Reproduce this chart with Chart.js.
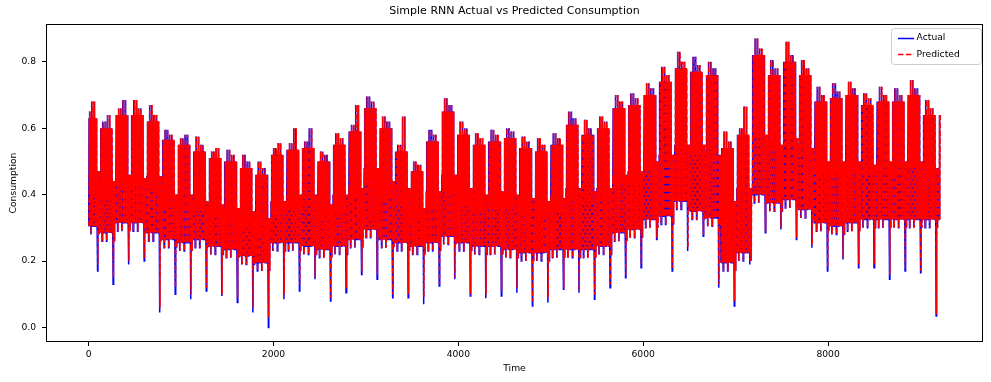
<!DOCTYPE html>
<html>
<head>
<meta charset="utf-8">
<title>Simple RNN Actual vs Predicted Consumption</title>
<script src="https://cdn.jsdelivr.net/npm/chart.js@4.4.0/dist/chart.umd.min.js"></script>
<style>
  html, body { margin: 0; padding: 0; background: #fff; }
  #chart { display: block; }
</style>
</head>
<body>
<canvas id="chart" width="991" height="382"></canvas>
<script>
// Values, one entry per week (week 0 starts mid-week).
// Hourly series over 384 days; a weekday is drawn as its troughs and three
// daytime peaks, the weekend day as its dip.
const DAYS = 384;

// highest weekday peak, first half of the week
const weekPeakEarly = [
    0.65, 0.62, 0.66, 0.685, 0.67, 0.595, 0.57, 0.575, 0.53, 0.535,
    0.52, 0.50, 0.54, 0.555, 0.56, 0.53, 0.585, 0.61, 0.695, 0.635,
    0.55, 0.50, 0.595, 0.69, 0.62, 0.585, 0.595, 0.60, 0.575, 0.57,
    0.585, 0.65, 0.625, 0.635, 0.70, 0.705, 0.735, 0.785, 0.83, 0.815,
    0.80, 0.59, 0.60, 0.87, 0.805, 0.86, 0.805, 0.725, 0.735, 0.74,
    0.705, 0.725, 0.72, 0.745, 0.685
];
// highest weekday peak, second half of the week
const weekPeakLate = [
    0.68, 0.64, 0.685, 0.66, 0.64, 0.58, 0.58, 0.55, 0.54, 0.52,
    0.50, 0.48, 0.555, 0.60, 0.60, 0.52, 0.57, 0.67, 0.68, 0.62,
    0.635, 0.49, 0.58, 0.67, 0.60, 0.57, 0.58, 0.59, 0.56, 0.55,
    0.57, 0.63, 0.60, 0.62, 0.68, 0.69, 0.72, 0.76, 0.80, 0.79,
    0.78, 0.56, 0.665, 0.84, 0.78, 0.82, 0.78, 0.70, 0.71, 0.72,
    0.69, 0.70, 0.70, 0.72, 0.66
];
// ordinary weekday peak
const weekPeakTypical = [
    0.63, 0.60, 0.64, 0.64, 0.62, 0.565, 0.55, 0.53, 0.51, 0.50,
    0.48, 0.46, 0.52, 0.535, 0.54, 0.50, 0.55, 0.59, 0.66, 0.60,
    0.53, 0.47, 0.56, 0.65, 0.58, 0.55, 0.56, 0.57, 0.54, 0.53,
    0.55, 0.61, 0.58, 0.60, 0.66, 0.67, 0.70, 0.74, 0.78, 0.77,
    0.76, 0.54, 0.58, 0.82, 0.76, 0.80, 0.76, 0.68, 0.69, 0.70,
    0.67, 0.68, 0.68, 0.70, 0.64
];
// dips between the daytime peaks
const weekMidday = [
    0.41, 0.39, 0.43, 0.43, 0.41, 0.36, 0.35, 0.35, 0.33, 0.32,
    0.30, 0.28, 0.34, 0.36, 0.36, 0.32, 0.35, 0.39, 0.43, 0.39,
    0.37, 0.32, 0.36, 0.41, 0.37, 0.35, 0.36, 0.36, 0.34, 0.33,
    0.35, 0.38, 0.37, 0.38, 0.43, 0.44, 0.47, 0.50, 0.54, 0.52,
    0.50, 0.33, 0.38, 0.57, 0.53, 0.56, 0.52, 0.46, 0.46, 0.47,
    0.46, 0.47, 0.46, 0.48, 0.45
];
// lowest weekday trough
const weekTrough = [
    0.28, 0.26, 0.29, 0.29, 0.26, 0.24, 0.23, 0.24, 0.22, 0.21,
    0.19, 0.17, 0.23, 0.23, 0.22, 0.21, 0.22, 0.24, 0.27, 0.24,
    0.23, 0.22, 0.23, 0.25, 0.23, 0.22, 0.22, 0.21, 0.20, 0.20,
    0.21, 0.21, 0.21, 0.22, 0.26, 0.27, 0.30, 0.31, 0.355, 0.325,
    0.305, 0.17, 0.20, 0.375, 0.35, 0.36, 0.33, 0.29, 0.28, 0.29,
    0.30, 0.30, 0.30, 0.30, 0.30
];
// ordinary weekday trough
const weekTroughTypical = [
    0.305, 0.285, 0.315, 0.315, 0.285, 0.265, 0.255, 0.265, 0.245, 0.235,
    0.215, 0.195, 0.255, 0.255, 0.245, 0.235, 0.245, 0.265, 0.295, 0.265,
    0.255, 0.245, 0.255, 0.275, 0.255, 0.245, 0.245, 0.235, 0.225, 0.225,
    0.235, 0.235, 0.235, 0.245, 0.285, 0.295, 0.325, 0.335, 0.38, 0.35,
    0.33, 0.195, 0.225, 0.40, 0.375, 0.385, 0.355, 0.315, 0.305, 0.315,
    0.325, 0.325, 0.325, 0.325, 0.325
];
// weekend peaks
const weekendPeak = [
    0.47, 0.44, 0.46, 0.45, 0.455, 0.40, 0.40, 0.38, 0.37, 0.36,
    0.35, 0.33, 0.38, 0.40, 0.40, 0.37, 0.40, 0.42, 0.48, 0.44,
    0.42, 0.36, 0.41, 0.46, 0.42, 0.40, 0.41, 0.40, 0.39, 0.38,
    0.39, 0.42, 0.41, 0.42, 0.46, 0.47, 0.50, 0.52, 0.55, 0.55,
    0.52, 0.38, 0.42, 0.58, 0.55, 0.57, 0.54, 0.50, 0.50, 0.50,
    0.49, 0.50, 0.50, 0.50, 0.48
];
// weekend minimum, actual
const actualDip = [
    0.17, 0.13, 0.19, 0.20, 0.045, 0.10, 0.085, 0.11, 0.095, 0.075,
    0.045, 0.00, 0.085, 0.11, 0.145, 0.08, 0.105, 0.16, 0.145, 0.09,
    0.09, 0.07, 0.125, 0.145, 0.095, 0.088, 0.095, 0.105, 0.065, 0.075,
    0.115, 0.105, 0.085, 0.12, 0.15, 0.18, 0.265, 0.17, 0.23, 0.275,
    0.12, 0.065, 0.19, 0.285, 0.295, 0.265, 0.24, 0.17, 0.205, 0.18,
    0.18, 0.145, 0.17, 0.165, 0.035
];
// weekend minimum, predicted
const predictedDip = [
    0.19, 0.15, 0.20, 0.21, 0.06, 0.12, 0.10, 0.12, 0.10, 0.09,
    0.06, 0.03, 0.10, 0.13, 0.15, 0.09, 0.12, 0.17, 0.16, 0.10,
    0.10, 0.09, 0.13, 0.15, 0.10, 0.10, 0.11, 0.12, 0.08, 0.09,
    0.12, 0.11, 0.10, 0.13, 0.16, 0.19, 0.27, 0.18, 0.24, 0.28,
    0.13, 0.08, 0.20, 0.29, 0.30, 0.27, 0.25, 0.18, 0.21, 0.19,
    0.19, 0.16, 0.18, 0.17, 0.04
];

const xTicks = [0, 2000, 4000, 6000, 8000];
const xTickLabels = ['0', '2000', '4000', '6000', '8000'];
const yTicks = [0, 0.2, 0.4, 0.6, 0.8];
const yTickLabels = ['0.0', '0.2', '0.4', '0.6', '0.8'];

const X_MIN = -461, X_MAX = 9676;
const Y_MIN = -0.0435, Y_MAX = 0.9135;

// hour offsets of the samples inside a day; predicted extremes come a few hours later
const ACTUAL_HOURS = [1, 5, 8, 11, 14, 18];
const PREDICTED_HOURS = [4, 8, 11, 14, 17, 21];

function buildSeries(dips, hours) {
    const points = [];
    const lastWeek = weekTrough.length - 1;
    for (let d = 0; d < DAYS; d++) {
        const w = Math.min(Math.floor((d + 2) / 7), lastWeek);
        const dow = (d + 2) % 7;
        const h = d * 24;
        let values;
        if (dow === 6) {
            // weekend day with the deep dip
            values = [dips[w], weekendPeak[w], weekTroughTypical[w],
                weekendPeak[w], weekTrough[w], weekendPeak[w]];
        } else {
            const typ = weekPeakTypical[w];
            let top = typ;
            if (dow === 1 || dow === 2) top = weekPeakEarly[w];
            if (dow === 3 || dow === 4) top = weekPeakLate[w];
            const low = (dow === 1 || dow === 3) ? weekTrough[w] : weekTroughTypical[w];
            const first = dow === 0 ? weekendPeak[w] : typ;
            const last = dow === 5 ? weekendPeak[w] : typ;
            values = [low, first, weekMidday[w], top, weekTroughTypical[w], last];
        }
        values.forEach((v, i) => points.push({ x: h + hours[i], y: v }));
    }
    return points;
}

Chart.defaults.font.family = "'DejaVu Sans', sans-serif";
Chart.defaults.color = '#000';

const LEGEND_W = 90, LEGEND_H = 36;

// axes box, legend frame and legend handles, like matplotlib
const framePlugin = {
    id: 'frame',
    afterLayout(chart) {
        const area = chart.chartArea;
        const lg = chart.legend;
        lg.left = area.right - LEGEND_W - 2;
        lg.right = lg.left + lg.width;
        lg.top = area.top + 2.5;
        lg.bottom = lg.top + lg.height;
    },
    afterDraw(chart) {
        const { ctx, chartArea: a } = chart;
        ctx.save();
        ctx.strokeStyle = '#000';
        ctx.lineWidth = 1;
        ctx.strokeRect(Math.round(a.left) + 0.5, Math.round(a.top) + 0.5,
            Math.round(a.right - a.left) - 1, Math.round(a.bottom - a.top) - 1);

        ctx.strokeStyle = '#cccccc';
        ctx.beginPath();
        ctx.roundRect(a.right - LEGEND_W - 2 + 0.5, a.top + 4.5, LEGEND_W, LEGEND_H, 3);
        ctx.stroke();

        chart.legend.legendItems.forEach((item, i) => {
            const hb = chart.legend.legendHitBoxes[i];
            const ds = chart.data.datasets[item.datasetIndex];
            const y = Math.round(hb.top + hb.height / 2) + 0.5;
            ctx.strokeStyle = ds.borderColor;
            ctx.lineWidth = ds.borderWidth;
            ctx.setLineDash(ds.borderDash || []);
            ctx.beginPath();
            ctx.moveTo(hb.left, y);
            ctx.lineTo(hb.left + 16, y);
            ctx.stroke();
        });
        ctx.restore();
    }
};

const tickFont = { size: 9.2 };

new Chart(document.getElementById('chart'), {
    type: 'line',
    data: {
        datasets: [
            {
                label: 'Actual',
                data: buildSeries(actualDip, ACTUAL_HOURS),
                borderColor: '#0000ff',
                backgroundColor: '#0000ff',
                borderWidth: 1.5,
                pointRadius: 0,
                order: 1
            },
            {
                label: 'Predicted',
                data: buildSeries(predictedDip, PREDICTED_HOURS),
                borderColor: '#ff0000',
                backgroundColor: '#ff0000',
                borderWidth: 1.5,
                borderDash: [5.5, 2.4],
                pointRadius: 0,
                order: 0
            }
        ]
    },
    options: {
        responsive: false,
        animation: false,
        devicePixelRatio: 1,
        layout: { padding: { left: 0, right: 8, top: 0, bottom: 0 } },
        plugins: {
            title: {
                display: true,
                fullSize: false,
                text: 'Simple RNN Actual vs Predicted Consumption',
                font: { size: 11, weight: 'normal' },
                color: '#000',
                padding: { top: 5, bottom: 5.8 }
            },
            legend: {
                position: 'chartArea',
                align: 'start',
                labels: {
                    boxWidth: 14,
                    boxHeight: 9,
                    padding: 7,
                    font: tickFont,
                    color: '#000',
                    sort: (a, b) => a.datasetIndex - b.datasetIndex,
                    // handles are drawn by the frame plugin so the dash shows
                    generateLabels: chart => Chart.defaults.plugins.legend.labels.generateLabels(chart)
                        .map(it => Object.assign(it, { fillStyle: 'rgba(0,0,0,0)', strokeStyle: 'rgba(0,0,0,0)', lineWidth: 0 }))
                }
            },
            tooltip: { enabled: false }
        },
        scales: {
            x: {
                type: 'linear',
                min: X_MIN,
                max: X_MAX,
                afterBuildTicks: s => { s.ticks = xTicks.map(v => ({ value: v })); },
                afterFit: s => { s.height = 40; },
                grid: { drawOnChartArea: false, tickLength: 4, tickColor: '#000' },
                border: { display: false },
                ticks: {
                    padding: 3,
                    maxRotation: 0,
                    autoSkip: false,
                    font: tickFont,
                    color: '#000',
                    callback: (v, i) => xTickLabels[i]
                },
                title: { display: true, text: 'Time', font: tickFont, color: '#000', padding: { top: 4, bottom: 7.5 } }
            },
            y: {
                min: Y_MIN,
                max: Y_MAX,
                afterBuildTicks: s => { s.ticks = yTicks.map(v => ({ value: v })); },
                afterFit: s => { s.width = 46; },
                grid: { drawOnChartArea: false, tickLength: 4, tickColor: '#000' },
                border: { display: false },
                ticks: {
                    padding: 6,
                    font: tickFont,
                    color: '#000',
                    callback: (v, i) => yTickLabels[i]
                },
                title: { display: true, text: 'Consumption', font: tickFont, color: '#000', padding: { top: 8.5, bottom: 4 } }
            }
        }
    },
    plugins: [framePlugin]
});
</script>
</body>
</html>
